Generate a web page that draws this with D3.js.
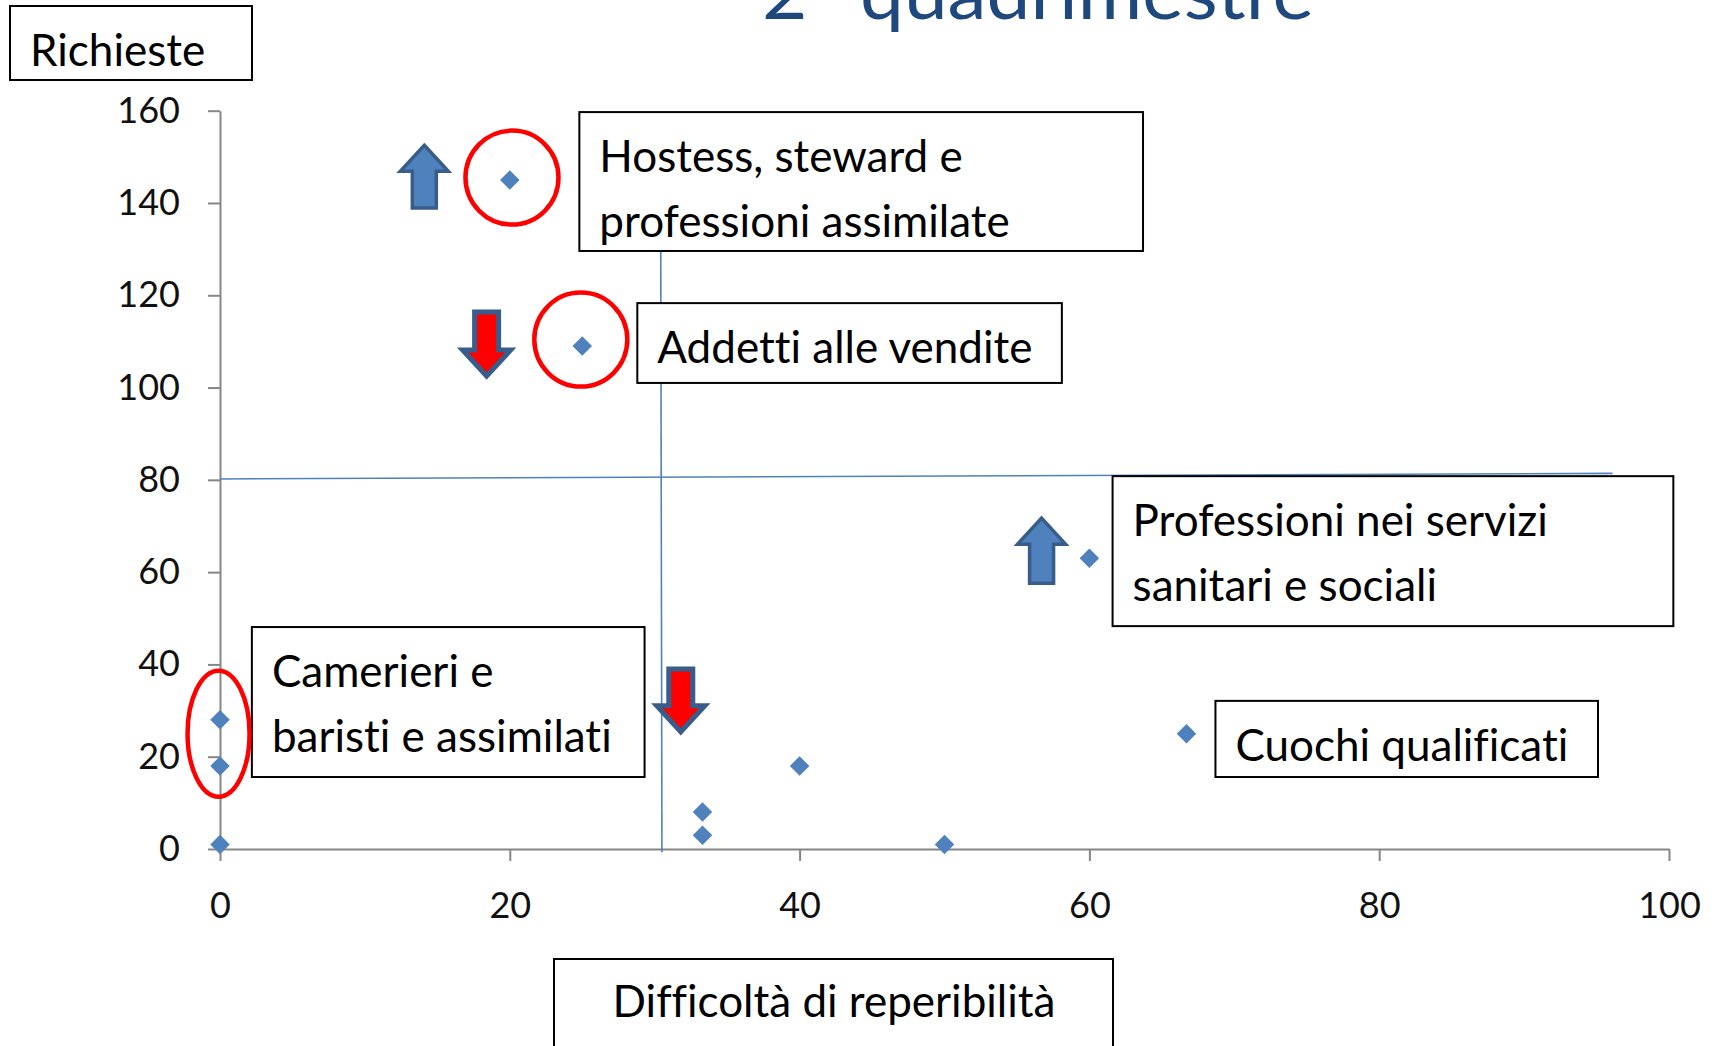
<!DOCTYPE html>
<html lang="it">
<head>
<meta charset="utf-8">
<title>2° quadrimestre</title>
<script src="https://cdn.jsdelivr.net/npm/d3@7"></script>
<style>
  html, body { margin: 0; padding: 0; background: #fff; }
  svg { display: block; font-family: "Lato", "Open Sans", sans-serif; font-variant-ligatures: none; }
</style>
</head>
<body>
<div id="grafico"></div>
<script>
// Dati: difficoltà di reperibilità (%) e numero di richieste per professione
const difficolta = [20, 25, 60, 66.7, 0, 0, 0, 33.3, 33.3, 40, 50];
const richieste  = [145, 109, 63, 25, 28, 18, 1, 8, 3, 18, 1];

// Tick degli assi
const tickX = [0, 20, 40, 60, 80, 100];
const tickY = [0, 20, 40, 60, 80, 100, 120, 140, 160];

// Linee di riferimento (quadranti), in unità dei dati
const lineaOrizzontale = [{ x: 0, y: 80.2 }, { x: 96.1, y: 81.4 }];
const lineaVerticale   = [{ x: 30.4, y: 157 }, { x: 30.5, y: -0.7 }];

// Riquadri con le etichette delle professioni (angoli in unità dei dati)
const etichetteTesto = [
    ["Hostess, steward e", "professioni assimilate"],
    ["Addetti alle vendite"],
    ["Professioni nei servizi", "sanitari e sociali"],
    ["Cuochi qualificati"],
    ["Camerieri e", "baristi e assimilati"]
];
const riquadriX0 = [24.8, 28.8, 61.6, 68.7, 2.2];
const riquadriX1 = [63.7, 58.1, 100.3, 95.1, 29.3];
const riquadriY0 = [159.7, 118.3, 80.8, 32.1, 48.1];
const riquadriY1 = [129.6, 101.0, 48.3, 15.6, 15.6];

// Cerchi rossi attorno ai punti evidenziati
const cerchiX = [20.15, 24.9, -0.1];
const cerchiY = [145.5, 110.4, 25];

// Frecce: posizione (x centro, y punta/coda) e direzione
const frecceX    = [14.1, 18.4, 56.7, 31.8];
const freccePunta = [152.5, 102.5, 71.7, 25.4];
const frecceCoda  = [138.9, 116.4, 57.6, 39.0];
const frecceDir   = ["su", "giu", "su", "giu"];

const ancho = 1718;
const alto = 1046;

const svg = d3.select("#grafico")
    .append("svg")
    .attr("width", ancho)
    .attr("height", alto);

const x = d3.scaleLinear().domain([0, 100]).range([220, 1669]);
const y = d3.scaleLinear().domain([0, 160]).range([849, 110.7]);

// Titolo (tagliato in alto come nell'originale)
svg.append("text")
    .attr("x", 1038)
    .attr("y", 19)
    .attr("text-anchor", "middle")
    .attr("fill", "#1F497D")
    .style("font-size", "74px")
    .attr("textLength", 552)
    .attr("lengthAdjust", "spacingAndGlyphs")
    .text("2° quadrimestre");

// Assi
const asseX = svg.append("g")
    .attr("transform", `translate(0,${y(0)})`)
    .call(d3.axisBottom(x).tickValues(tickX).tickSize(12).tickSizeOuter(0).tickPadding(31));

const asseY = svg.append("g")
    .attr("transform", `translate(${x(0)},0)`)
    .call(d3.axisLeft(y).tickValues(tickY).tickSize(12).tickSizeOuter(0).tickPadding(28));

[asseX, asseY].forEach(a => {
    a.selectAll("path, line").attr("stroke", "#868686").attr("stroke-width", 2);
    a.selectAll("text")
        .attr("fill", "#111")
        .style("font-size", "36px")
        .style("font-family", "Lato, sans-serif");
});

// Linee dei quadranti
const linea = d3.line().x(d => x(d.x)).y(d => y(d.y));
[lineaOrizzontale, lineaVerticale].forEach(l => {
    svg.append("path")
        .attr("d", linea(l))
        .attr("fill", "none")
        .attr("stroke", "#4F81BD")
        .attr("stroke-width", 1.6);
});

// Punti (rombi)
const punti = difficolta.map((d, i) => ({ x: d, y: richieste[i] }));
svg.selectAll(".punto")
    .data(punti)
    .enter()
    .append("path")
    .attr("class", "punto")
    .attr("d", d3.symbol(d3.symbolSquare, 190))
    .attr("transform", d => `translate(${x(d.x)},${y(d.y)}) rotate(45)`)
    .attr("fill", "#4F81BD");

// Riquadri delle etichette
const riquadri = etichetteTesto.map((righe, i) => ({
    righe, x0: riquadriX0[i], x1: riquadriX1[i], y0: riquadriY0[i], y1: riquadriY1[i]
}));

const gruppiRiquadri = svg.selectAll(".riquadro")
    .data(riquadri)
    .enter()
    .append("g")
    .attr("class", "riquadro")
    .attr("transform", d => `translate(${x(d.x0)},${y(d.y0)})`);

gruppiRiquadri.append("rect")
    .attr("width", d => x(d.x1) - x(d.x0))
    .attr("height", d => y(d.y1) - y(d.y0))
    .attr("fill", "#fff")
    .attr("stroke", "#000")
    .attr("stroke-width", 2);

gruppiRiquadri.selectAll("text")
    .data(d => d.righe)
    .enter()
    .append("text")
    .attr("x", 20)
    .attr("y", (d, i) => 60 + i * 65)
    .attr("fill", "#000")
    .style("font-size", "44px")
    .text(d => d);

// Cerchi rossi
const cerchi = cerchiX.map((c, i) => ({ x: c, y: cerchiY[i] }));
svg.selectAll(".cerchio")
    .data(cerchi)
    .enter()
    .append("ellipse")
    .attr("class", "cerchio")
    .attr("cx", d => x(d.x))
    .attr("cy", d => y(d.y))
    .attr("rx", (d, i) => i === 2 ? 31 : 46.5)
    .attr("ry", (d, i) => i === 2 ? 63 : 47)
    .attr("fill", "none")
    .attr("stroke", "#FF0000")
    .attr("stroke-width", 4.5);

// Frecce a blocco
const frecce = frecceX.map((f, i) => ({ x: f, punta: freccePunta[i], coda: frecceCoda[i], dir: frecceDir[i] }));
function pathFreccia(d) {
    const cx = x(d.x);
    const yp = y(d.punta);
    const yc = y(d.coda);
    const s = d.dir === "su" ? 1 : -1;
    const testa = 26 * s;
    const mezzaTesta = 24;
    const mezzoFusto = 12;
    return d3.line()([
        [cx, yp],
        [cx + mezzaTesta, yp + testa],
        [cx + mezzoFusto, yp + testa],
        [cx + mezzoFusto, yc],
        [cx - mezzoFusto, yc],
        [cx - mezzoFusto, yp + testa],
        [cx - mezzaTesta, yp + testa]
    ]) + "Z";
}
svg.selectAll(".freccia")
    .data(frecce)
    .enter()
    .append("path")
    .attr("class", "freccia")
    .attr("d", pathFreccia)
    .attr("fill", d => d.dir === "su" ? "#4F81BD" : "#FF0000")
    .attr("stroke", "#385D8A")
    .attr("stroke-width", d => d.dir === "su" ? 3.5 : 5)
    .attr("stroke-linejoin", "miter");

// Titoli degli assi in riquadri
svg.append("rect")
    .attr("x", 10).attr("y", 6)
    .attr("width", 242).attr("height", 74)
    .attr("fill", "#fff").attr("stroke", "#000").attr("stroke-width", 2);
svg.append("text")
    .attr("x", 30).attr("y", 66)
    .style("font-size", "44px")
    .text("Richieste");

svg.append("rect")
    .attr("x", 554).attr("y", 959)
    .attr("width", 559).attr("height", 120)
    .attr("fill", "#fff").attr("stroke", "#000").attr("stroke-width", 2);
svg.append("text")
    .attr("x", 834).attr("y", 1017)
    .attr("text-anchor", "middle")
    .style("font-size", "44px")
    .text("Difficoltà di reperibilità");
</script>
</body>
</html>
